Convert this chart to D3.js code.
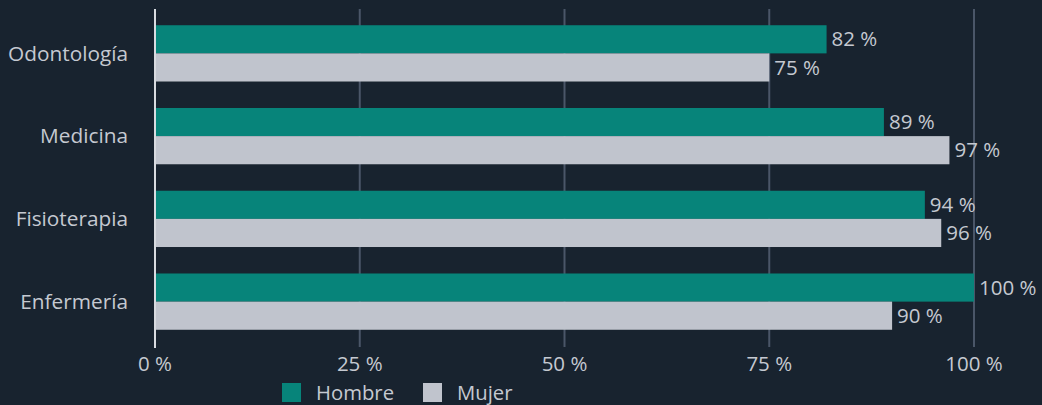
<!DOCTYPE html>
<html>
<head>
<meta charset="utf-8">
<script src="https://cdn.jsdelivr.net/npm/d3@7"></script>
<style>
  html, body { margin: 0; padding: 0; background: #18232f; }
  svg text { font-family: "Open Sans", Lato, sans-serif; fill: #c5c9d1; }
</style>
</head>
<body>
<div id="chart"></div>
<script>
var categories = ["Odontología", "Medicina", "Fisioterapia", "Enfermería"];
var series = ["Hombre", "Mujer"];
var hombre = [82, 89, 94, 100];
var mujer = [75, 97, 96, 90];
var ticks = [0, 25, 50, 75, 100];
var colors = ["#07847a", "#c0c4cd"];

var width = 1042, height = 405;

var svg = d3.select("#chart").append("svg")
    .attr("width", width).attr("height", height);

var x = d3.scaleLinear().domain([0, 100]).range([155, 974]);
var y = d3.scaleBand().domain(categories).range([12, 343]).paddingInner(0.32).paddingOuter(0.16);
var ySub = d3.scaleBand().domain(series).range([0, y.bandwidth()]);

// grid
svg.append("g").selectAll("line")
  .data(ticks.slice(1))
  .join("line")
    .attr("x1", d => x(d)).attr("x2", d => x(d))
    .attr("y1", 9).attr("y2", 347)
    .attr("stroke", "#4a5668").attr("stroke-width", 2);

var rows = categories.map((c, i) => ({cat: c, vals: [hombre[i], mujer[i]]}));

var groups = svg.append("g").selectAll("g")
  .data(rows)
  .join("g")
    .attr("transform", d => "translate(0," + y(d.cat) + ")");

groups.selectAll("rect")
  .data(d => d.vals.map((v, j) => ({s: series[j], v: v, j: j})))
  .join("rect")
    .attr("x", x(0))
    .attr("y", d => ySub(d.s))
    .attr("width", d => x(d.v) - x(0))
    .attr("height", ySub.bandwidth())
    .attr("fill", d => colors[d.j]);

groups.selectAll("text.val")
  .data(d => d.vals.map((v, j) => ({s: series[j], v: v})))
  .join("text")
    .attr("class", "val")
    .attr("x", d => x(d.v) + 5)
    .attr("y", d => ySub(d.s) + ySub.bandwidth() / 2)
    .attr("dy", "0.35em")
    .style("font-size", "20.5px")
    .text(d => d.v + " %");

// category labels
svg.append("g").selectAll("text")
  .data(categories)
  .join("text")
    .attr("x", 128)
    .attr("y", d => y(d) + y.bandwidth() / 2)
    .attr("dy", "0.35em")
    .attr("text-anchor", "end")
    .style("font-size", "20.8px")
    .text(d => d);

// axis line at 0
svg.append("line")
    .attr("x1", x(0)).attr("x2", x(0))
    .attr("y1", 9).attr("y2", 348)
    .attr("stroke", "#d8dbe0").attr("stroke-width", 2);

// tick labels
svg.append("g").selectAll("text")
  .data(ticks)
  .join("text")
    .attr("x", d => x(d))
    .attr("y", 371)
    .attr("text-anchor", "middle")
    .style("font-size", "20.5px")
    .text(d => d + " %");

// legend
var legendX = [282, 423];
var leg = svg.append("g").selectAll("g")
  .data(series)
  .join("g")
    .attr("transform", (d, i) => "translate(" + legendX[i] + ",383)");
leg.append("rect").attr("width", 19).attr("height", 19).attr("fill", (d, i) => colors[i]);
leg.append("text").attr("x", 34).attr("y", 10).attr("dy", "0.35em")
  .style("font-size", "20.3px").text(d => d);
</script>
</body>
</html>
